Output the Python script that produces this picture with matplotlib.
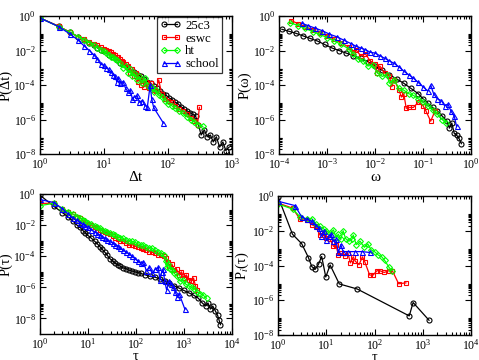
import numpy as np
import matplotlib
matplotlib.use("Agg")
import matplotlib.pyplot as plt
from matplotlib.ticker import FixedLocator, LogFormatterSciNotation, NullFormatter

plt.rcParams['font.family'] = ['Liberation Serif', 'DejaVu Serif']
plt.rcParams['mathtext.fontset'] = 'stix'

# ---------------- Panel 1: P(Δt)  (x = Δt, values = log10 P) ----------------
dt_25c3 = [1,2,3,4,5,6,7,8,9,10,12,14,16,18,20,23,26,30,34,38,43,48,54,60,67,75,84,94,105,117,130,145,160,180,200,220,245,270,300,330,370,410,460,510,570,640,720,800,900]
lp_dt_25c3 = [-0.1,-0.6,-0.95,-1.2,-1.4,-1.55,-1.7,-1.85,-1.95,-2.05,-2.25,-2.4,-2.55,-2.7,-2.8,-2.95,-3.1,-3.25,-3.4,-3.5,-3.65,-3.8,-3.9,-4.05,-4.2,-4.35,-4.5,-4.6,-4.75,-4.85,-5.0,-5.1,-5.25,-5.4,-5.5,-5.6,-5.7,-5.8,-6.3,-6.9,-6.6,-7.0,-6.9,-7.3,-7.0,-7.6,-7.3,-7.8,-7.6]
dt_eswc = [1,2,3,4,5,6,7,8,9,10,11,12,13,14,15,16,17,18,19,20,22,24,26,28,30,32,34,36,38,40,43,46,50,55,60,65,72,80,90,100,115,130,150,170,200,230,260,290,310]
lp_dt_eswc = [-0.1,-0.6,-0.95,-1.2,-1.35,-1.5,-1.6,-1.7,-1.8,-1.9,-1.95,-2.05,-2.1,-2.2,-2.25,-2.35,-2.4,-2.5,-2.6,-2.65,-2.8,-2.9,-3.3,-3.1,-3.5,-3.3,-3.8,-3.5,-4.0,-3.7,-4.1,-3.8,-4.2,-3.9,-4.3,-4.35,-3.7,-4.5,-4.8,-4.9,-5.0,-5.2,-5.4,-5.5,-5.7,-5.9,-6.1,-6.3,-5.3]
dt_ht = [1,2,3,4,5,6,7,8,9,10,11,12,13,14,15,16,18,20,22,24,26,28,30,33,36,40,44,48,52,56,60,66,72,80,90,100,115,130,150,170,200,230,260,300,350]
lp_dt_ht = [-0.1,-0.62,-0.95,-1.2,-1.4,-1.55,-1.7,-1.85,-1.95,-2.05,-2.15,-2.25,-2.35,-2.4,-2.5,-2.55,-2.7,-3.0,-2.9,-3.3,-3.1,-3.5,-3.3,-3.7,-3.5,-3.9,-3.6,-4.0,-4.2,-4.1,-4.4,-4.3,-4.6,-4.7,-4.9,-5.1,-5.2,-5.35,-5.5,-5.65,-5.85,-6.0,-6.15,-6.3,-6.4]
dt_school = [1,2,3,4,5,6,7,8,9,10,11,12,13,14,15,16,17,18,20,22,24,26,28,30,33,36,40,44,48,53,56,60,85]
lp_dt_school = [-0.1,-0.62,-1.05,-1.4,-1.75,-2.0,-2.25,-2.5,-2.8,-2.85,-3.0,-3.1,-3.25,-3.4,-3.5,-3.8,-3.6,-3.9,-3.8,-4.2,-4.4,-4.3,-4.8,-4.7,-4.6,-5.0,-4.9,-5.2,-5.25,-4.0,-4.8,-5.3,-6.2]

# ---------------- Panel 2: P(ω)  (log10 ω, log10 P) ----------------
lw_25c3 = [-3.94,-3.8,-3.65,-3.5,-3.35,-3.2,-3.05,-2.9,-2.75,-2.6,-2.45,-2.3,-2.15,-2.0,-1.85,-1.7,-1.55,-1.4,-1.25,-1.1,-1.0,-0.9,-0.8,-0.7,-0.6,-0.5,-0.45,-0.4,-0.35,-0.3,-0.25,-0.2]
lp_w_25c3 = [-0.77,-0.88,-1.0,-1.15,-1.3,-1.45,-1.65,-1.85,-2.0,-2.15,-2.3,-2.45,-2.65,-2.9,-3.15,-3.4,-3.65,-3.9,-4.2,-4.5,-4.8,-5.05,-5.3,-5.5,-5.8,-6.1,-6.5,-6.2,-6.8,-6.9,-7.1,-7.4]
lw_eswc = [-3.74,-3.6,-3.45,-3.3,-3.15,-3.0,-2.85,-2.7,-2.55,-2.45,-2.4,-2.3,-2.2,-2.1,-2.0,-1.95,-1.9,-1.8,-1.7,-1.65,-1.6,-1.5,-1.45,-1.4,-1.35,-1.3,-1.2,-1.1,-1.0,-0.94,-0.84,-0.75]
lp_w_eswc = [-0.27,-0.45,-0.62,-0.8,-0.98,-1.15,-1.35,-1.55,-1.8,-2.1,-1.95,-2.3,-2.2,-2.6,-2.8,-3.3,-2.9,-3.3,-3.5,-4.1,-3.7,-4.3,-4.7,-4.5,-5.35,-5.3,-5.3,-5.0,-5.2,-5.5,-6.1,-5.5]
lw_ht = [-3.77,-3.6,-3.45,-3.3,-3.15,-3.0,-2.85,-2.7,-2.55,-2.45,-2.35,-2.25,-2.15,-2.05,-1.95,-1.85,-1.75,-1.7,-1.6,-1.5,-1.4,-1.3,-1.2,-1.1,-1.0,-0.9,-0.8,-0.7,-0.6,-0.52]
lp_w_ht = [-0.39,-0.55,-0.72,-0.9,-1.07,-1.25,-1.45,-1.65,-1.9,-2.2,-2.5,-2.6,-2.9,-2.85,-3.3,-3.5,-3.4,-3.9,-3.7,-4.2,-4.3,-4.5,-4.6,-4.8,-5.0,-5.2,-5.45,-5.7,-6.0,-6.2]
lw_school = [-3.53,-3.4,-3.25,-3.1,-2.95,-2.8,-2.65,-2.5,-2.4,-2.3,-2.2,-2.1,-2.0,-1.9,-1.8,-1.7,-1.6,-1.5,-1.4,-1.3,-1.2,-1.1,-1.0,-0.9,-0.84,-0.78,-0.7,-0.62,-0.55,-0.48,-0.42,-0.35,-0.3]
lp_w_school = [-0.42,-0.55,-0.7,-0.85,-1.05,-1.2,-1.4,-1.6,-1.75,-1.85,-1.95,-2.1,-2.15,-2.3,-2.45,-2.6,-2.75,-2.95,-3.2,-3.4,-3.6,-3.85,-4.1,-4.35,-4.0,-4.5,-4.8,-4.9,-5.2,-5.1,-5.5,-5.8,-6.4]

# ---------------- Panel 3: P(τ)  (log10 τ, log10 P) ----------------
lt_25c3 = [0,0.301,0.477,0.602,0.699,0.778,0.845,0.903,0.954,1.0,1.08,1.15,1.2,1.26,1.3,1.36,1.41,1.46,1.52,1.57,1.63,1.68,1.74,1.8,1.86,1.92,1.98,2.04,2.1,2.2,2.3,2.4,2.5,2.6,2.7,2.8,2.9,3.0,3.1,3.2,3.3,3.38,3.45,3.5,3.55,3.6,3.65,3.7,3.73,3.76]
lp_t_25c3 = [-0.05,-0.8,-1.2,-1.5,-1.75,-2.0,-2.15,-2.35,-2.5,-2.65,-2.85,-3.05,-3.2,-3.4,-3.55,-3.75,-3.95,-4.15,-4.3,-4.45,-4.55,-4.65,-4.75,-4.8,-4.9,-4.95,-5.0,-5.05,-5.1,-5.2,-5.3,-5.35,-5.45,-5.6,-5.75,-5.9,-6.05,-6.2,-6.35,-6.5,-6.7,-7.0,-7.2,-7.0,-7.4,-7.2,-7.5,-7.8,-8.1,-8.4]
lt_eswc = [0,0.301,0.477,0.602,0.699,0.778,0.845,0.903,0.954,1.0,1.08,1.15,1.2,1.26,1.3,1.36,1.41,1.46,1.52,1.57,1.63,1.68,1.74,1.8,1.86,1.92,1.98,2.04,2.1,2.16,2.22,2.28,2.34,2.4,2.46,2.52,2.58,2.62,2.66,2.7,2.75,2.8,2.85,2.9,2.95,3.0,3.05,3.1,3.15,3.2,3.24,3.27]
lp_t_eswc = [-0.6,-0.6,-0.95,-1.15,-1.3,-1.45,-1.55,-1.7,-1.8,-1.9,-2.0,-2.1,-2.2,-2.3,-2.35,-2.45,-2.5,-2.6,-2.7,-2.8,-2.9,-3.0,-3.05,-3.15,-3.3,-3.25,-3.35,-3.4,-3.5,-3.55,-3.6,-3.7,-3.75,-3.8,-3.9,-3.95,-4.0,-4.1,-4.35,-4.6,-4.5,-4.9,-4.85,-5.2,-5.0,-5.4,-5.2,-5.5,-5.6,-5.4,-5.9,-6.2]
lt_ht = [0,0.301,0.477,0.602,0.699,0.778,0.845,0.903,0.954,1.0,1.08,1.15,1.2,1.26,1.3,1.36,1.41,1.46,1.52,1.57,1.63,1.68,1.74,1.8,1.86,1.92,1.98,2.04,2.1,2.16,2.22,2.28,2.34,2.4,2.46,2.52,2.58,2.62,2.64,2.68,2.72,2.76,2.8,2.86,2.92,2.98,3.04,3.1,3.16,3.22,3.28,3.34,3.4,3.47]
lp_t_ht = [-0.75,-0.6,-0.95,-1.15,-1.3,-1.45,-1.55,-1.65,-1.75,-1.85,-1.95,-2.05,-2.15,-2.2,-2.3,-2.35,-2.45,-2.5,-2.6,-2.65,-2.75,-2.8,-2.85,-2.95,-3.0,-3.05,-3.1,-3.2,-3.25,-3.3,-3.4,-3.45,-3.5,-3.6,-3.7,-3.8,-3.95,-4.3,-4.7,-4.5,-4.8,-4.9,-5.1,-5.3,-5.6,-5.5,-5.8,-5.9,-6.0,-6.1,-6.3,-6.4,-6.5,-6.7]
lt_school = [0,0.301,0.477,0.602,0.699,0.778,0.845,0.903,0.954,1.0,1.08,1.15,1.2,1.26,1.3,1.36,1.41,1.46,1.52,1.57,1.63,1.68,1.74,1.8,1.86,1.92,1.98,2.04,2.1,2.16,2.22,2.28,2.34,2.4,2.47,2.5,2.54,2.57,2.6,2.64,2.7,2.74,2.78,2.82,2.86,2.9,3.02]
lp_t_school = [-0.35,-0.55,-0.95,-1.3,-1.55,-1.7,-1.85,-1.95,-2.05,-2.15,-2.3,-2.45,-2.55,-2.65,-2.75,-2.85,-2.95,-3.05,-3.15,-3.25,-3.35,-3.5,-3.6,-3.75,-3.85,-4.0,-4.15,-4.3,-4.45,-4.35,-4.95,-4.7,-5.1,-4.85,-4.7,-5.5,-5.0,-4.85,-5.6,-6.15,-5.6,-5.8,-5.95,-6.3,-6.6,-6.4,-7.4]

# ---------------- Panel 4: P_i(τ)  (log10 τ, log10 P) ----------------
li_25c3 = [0,0.3,0.49,0.63,0.70,0.77,0.84,0.905,0.99,1.08,1.27,1.64,2.72,2.8,3.13]
lp_i_25c3 = [-0.03,-2.2,-2.74,-3.54,-4.06,-4.22,-3.92,-3.48,-4.66,-3.97,-5.06,-5.35,-6.9,-6.13,-7.15]
li_eswc = [0,0.301,0.46,0.6,0.7,0.78,0.87,0.95,1.0,1.08,1.15,1.2,1.25,1.3,1.39,1.45,1.5,1.56,1.6,1.68,1.75,1.8,1.9,1.97,2.05,2.11,2.2,2.3,2.37,2.5,2.65]
lp_i_eswc = [-0.4,-0.7,-1.35,-1.4,-1.65,-1.75,-2.25,-2.1,-2.4,-2.5,-2.9,-2.8,-3.4,-3.3,-3.45,-3.3,-3.85,-3.5,-3.75,-3.95,-3.5,-3.8,-4.55,-4.55,-4.3,-4.3,-4.4,-4.3,-4.3,-5.05,-5.0]
li_ht = [0,0.301,0.46,0.6,0.7,0.78,0.87,0.95,1.0,1.08,1.15,1.2,1.25,1.3,1.35,1.4,1.47,1.53,1.56,1.62,1.7,1.79,1.86,1.93,2.0,2.08,2.15,2.21,2.3,2.36]
lp_i_ht = [-0.45,-0.75,-1.2,-1.35,-1.3,-1.6,-1.75,-1.9,-2.0,-2.15,-1.95,-2.4,-2.2,-2.5,-2.0,-2.45,-2.6,-2.5,-2.25,-2.8,-2.6,-2.95,-2.75,-3.1,-3.2,-3.4,-3.5,-3.7,-4.1,-4.3]
li_school = [0,0.35,0.49,0.6,0.7,0.78,0.85,0.9,0.95,1.0,1.05,1.1,1.15,1.2,1.25,1.3,1.35,1.45,1.6,1.75,1.9]
lp_i_school = [-0.3,-0.55,-1.2,-1.35,-1.45,-1.7,-1.85,-2.3,-2.0,-2.55,-2.3,-2.2,-2.6,-2.5,-3.25,-2.8,-3.2,-3.2,-3.2,-3.2,-3.25]

names = ['25c3', 'eswc', 'ht', 'school']
colors = ['#000000', '#ff0000', '#00ff00', '#0000ff']
markers = ['o', 's', 'D', '^']
msizes = [3.6, 3.4, 3.0, 3.6]

fig = plt.figure(figsize=(4.79, 3.6), dpi=100)
ax1 = fig.add_axes([0.0825, 0.5722, 0.4019, 0.3833])
ax2 = fig.add_axes([0.5825, 0.5722, 0.4008, 0.3833])
ax3 = fig.add_axes([0.0825, 0.0722, 0.4019, 0.3889])
ax4 = fig.add_axes([0.5804, 0.0694, 0.4029, 0.3861])

def pw(a):
    return np.power(10.0, np.asarray(a, dtype=float))

def draw(ax, xs, ys, logx=True):
    for i, (x, y) in enumerate(zip(xs, ys)):
        xv = pw(x) if logx else np.asarray(x, dtype=float)
        ax.plot(xv, pw(y), color=colors[i], lw=0.9, marker=markers[i], ms=msizes[i],
                mfc='none', mec=colors[i], mew=0.8, label=names[i])

draw(ax1, [dt_25c3, dt_eswc, dt_ht, dt_school],
     [lp_dt_25c3, lp_dt_eswc, lp_dt_ht, lp_dt_school], logx=False)
draw(ax2, [lw_25c3, lw_eswc, lw_ht, lw_school],
     [lp_w_25c3, lp_w_eswc, lp_w_ht, lp_w_school])
draw(ax3, [lt_25c3, lt_eswc, lt_ht, lt_school],
     [lp_t_25c3, lp_t_eswc, lp_t_ht, lp_t_school])
draw(ax4, [li_25c3, li_eswc, li_ht, li_school],
     [lp_i_25c3, lp_i_eswc, lp_i_ht, lp_i_school])

def style(ax, xlim, ylim, xlabel, ylabel, ylab_x, xlpad, xlsize):
    ax.set_xscale('log')
    ax.set_yscale('log')
    ax.set_xlim(*xlim)
    ax.set_ylim(*ylim)
    x0, x1 = int(round(np.log10(xlim[0]))), int(round(np.log10(xlim[1])))
    ax.xaxis.set_major_locator(FixedLocator([10.0**k for k in range(x0, x1 + 1)]))
    ax.xaxis.set_minor_locator(FixedLocator([m * 10.0**k for k in range(x0, x1) for m in range(2, 10)]))
    ytop = 0
    ybot = int(np.ceil(np.log10(ylim[0])))
    if ybot % 2:
        ybot += 1
    ymaj = [10.0**k for k in range(ybot, ytop + 1, 2)]
    ax.yaxis.set_major_locator(FixedLocator(ymaj))
    ax.yaxis.set_minor_locator(FixedLocator([m * 10.0**k for k in range(ybot, ytop, 2) for m in range(2, 10)]))
    ax.xaxis.set_major_formatter(LogFormatterSciNotation())
    ax.yaxis.set_major_formatter(LogFormatterSciNotation())
    ax.xaxis.set_minor_formatter(NullFormatter())
    ax.yaxis.set_minor_formatter(NullFormatter())
    ax.tick_params(which='both', direction='in', top=True, right=True, labelsize=8.5, width=0.8, pad=2.5)
    ax.tick_params(axis='x', which='major', pad=2)
    ax.tick_params(which='major', length=4.5)
    ax.tick_params(which='minor', length=2.2)
    for s in ax.spines.values():
        s.set_linewidth(1.0)
    ax.set_xlabel(xlabel, fontsize=xlsize, labelpad=xlpad)
    ax.set_ylabel(ylabel, fontsize=10.5)
    ax.yaxis.set_label_coords(ylab_x, 0.5)

style(ax1, (1, 1e3), (1e-8, 1), 'Δt', 'P(Δt)', -0.14, -0.5, 11)
style(ax2, (1e-4, 1), (1e-8, 1), 'ω', 'P(ω)', -0.145, -0.5, 11)
style(ax3, (1, 1e4), (1e-9, 1), 'τ', 'P(τ)', -0.14, -1.0, 10.5)
style(ax4, (1, 1e4), (1e-8, 1), 'τ', r'P$_i$(τ)', -0.14, -1.0, 10.5)

leg = ax1.legend(loc='upper right', bbox_to_anchor=(0.948, 0.995), fontsize=9.3,
                 numpoints=2, handlelength=1.6, handletextpad=0.3, borderpad=0.25,
                 labelspacing=0.05, borderaxespad=0.0, frameon=True, fancybox=False)
leg.get_frame().set_edgecolor('black')
leg.get_frame().set_linewidth(0.9)

fig.savefig('out.png', dpi=100)
